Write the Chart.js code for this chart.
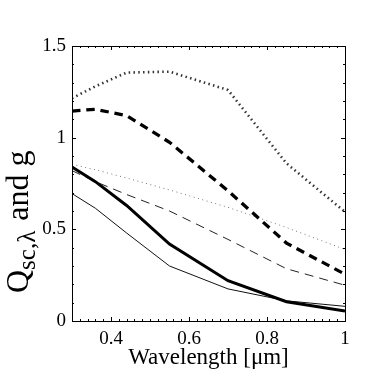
<!DOCTYPE html>
<html>
<head>
<meta charset="utf-8">
<script src="https://cdn.jsdelivr.net/npm/chart.js@4.4.1/dist/chart.umd.min.js"></script>
<style>
  html, body { margin: 0; padding: 0; background: #fff; }
</style>
</head>
<body>
<canvas id="qChart" width="382" height="382"></canvas>
<script>
// wavelengths [um] and curves
const wavelengths  = [0.3, 0.36, 0.44, 0.55, 0.7, 0.85, 1.0];
const thickDotted  = [1.215, 1.28, 1.355, 1.36, 1.26, 0.86, 0.595];
const thickDashed  = [1.145, 1.155, 1.12, 0.975, 0.71, 0.425, 0.255];
const thickSolid   = [0.84, 0.76, 0.63, 0.42, 0.22, 0.105, 0.055];
const thinDotted   = [0.855, 0.825, 0.78, 0.715, 0.62, 0.51, 0.39];
const thinDashed   = [0.82, 0.76, 0.69, 0.6, 0.445, 0.285, 0.195];
const thinSolid    = [0.695, 0.615, 0.48, 0.30, 0.175, 0.11, 0.08];

const xTicks = [0.4, 0.6, 0.8, 1];
const yTicks = [0, 0.5, 1, 1.5];

const serif = '"Liberation Serif", "Times New Roman", serif';

const pts = ys => wavelengths.map((x, i) => ({ x: x, y: ys[i] }));

// box, inward ticks and the two axis titles
const frame = {
    id: 'frame',
    afterDraw(chart) {
        const ctx = chart.ctx, a = chart.chartArea;
        const xs = chart.scales.x, ys = chart.scales.y;
        ctx.save();
        ctx.strokeStyle = '#000';
        ctx.lineWidth = 1;
        ctx.strokeRect(Math.round(a.left) + 0.5, Math.round(a.top) + 0.5,
            Math.round(a.right - a.left), Math.round(a.bottom - a.top));

        ctx.beginPath();
        for (let v = 0.3; v <= 1.0001; v += 0.02) {
            const px = Math.round(xs.getPixelForValue(v)) + 0.5;
            const major = xTicks.some(t => Math.abs(t - v) < 1e-6);
            const len = major ? 4 : 2;
            ctx.moveTo(px, a.bottom); ctx.lineTo(px, a.bottom - len);
            ctx.moveTo(px, a.top); ctx.lineTo(px, a.top + len);
        }
        for (let v = 0; v <= 1.5001; v += 0.1) {
            const py = Math.round(ys.getPixelForValue(v)) + 0.5;
            const major = yTicks.some(t => Math.abs(t - v) < 1e-6);
            const len = major ? 4 : 2;
            ctx.moveTo(a.left, py); ctx.lineTo(a.left + len, py);
            ctx.moveTo(a.right, py); ctx.lineTo(a.right - len, py);
        }
        ctx.stroke();

        ctx.fillStyle = '#000';
        ctx.font = '23px ' + serif;
        ctx.textAlign = 'center';
        ctx.textBaseline = 'alphabetic';
        ctx.fillText('Wavelength [\u03bcm]', (a.left + a.right) / 2, 364);

        ctx.translate(28, 293);
        ctx.rotate(-Math.PI / 2);
        ctx.textAlign = 'left';
        ctx.font = '32px ' + serif;
        ctx.fillText('Q', 0, 0);
        let w = ctx.measureText('Q').width;
        ctx.font = '25px ' + serif;
        ctx.fillText('sc,\u03bb', w, 7);
        w += ctx.measureText('sc,\u03bb').width + 2;
        ctx.font = '32px ' + serif;
        ctx.fillText(' and g', w, 0);
        ctx.restore();
    }
};

new Chart(document.getElementById('qChart'), {
    type: 'line',
    data: {
        datasets: [
            { data: pts(thickDotted), borderColor: '#333', borderWidth: 2.6, borderDash: [1.5, 3.3] },
            { data: pts(thickDashed), borderColor: '#000', borderWidth: 3.3, borderDash: [8.5, 5.8] },
            { data: pts(thickSolid),  borderColor: '#000', borderWidth: 3 },
            { data: pts(thinDotted),  borderColor: '#777', borderWidth: 1, borderDash: [1, 3.5] },
            { data: pts(thinDashed),  borderColor: '#222', borderWidth: 1, borderDash: [9, 6] },
            { data: pts(thinSolid),   borderColor: '#111', borderWidth: 1 }
        ]
    },
    options: {
        responsive: false,
        animation: false,
        layout: { padding: { top: 46, right: 37, left: 0, bottom: 0 } },
        elements: { point: { radius: 0 }, line: { tension: 0, fill: false } },
        plugins: { legend: { display: false }, tooltip: { enabled: false } },
        scales: {
            x: {
                type: 'linear', min: 0.3, max: 1,
                grid: { display: false, drawTicks: false }, border: { display: false },
                afterBuildTicks: s => { s.ticks = xTicks.map(v => ({ value: v })); },
                afterFit: s => { s.height = 61; },
                ticks: { font: { family: serif, size: 19 }, color: '#000', padding: 7,
                         maxRotation: 0, autoSkip: false, callback: v => String(v) }
            },
            y: {
                min: 0, max: 1.5,
                grid: { display: false, drawTicks: false }, border: { display: false },
                afterBuildTicks: s => { s.ticks = yTicks.map(v => ({ value: v })); },
                afterFit: s => { s.width = 72; },
                ticks: { font: { family: serif, size: 19 }, color: '#000', padding: 6,
                         autoSkip: false, callback: v => String(v) }
            }
        }
    },
    plugins: [frame]
});
</script>
</body>
</html>
